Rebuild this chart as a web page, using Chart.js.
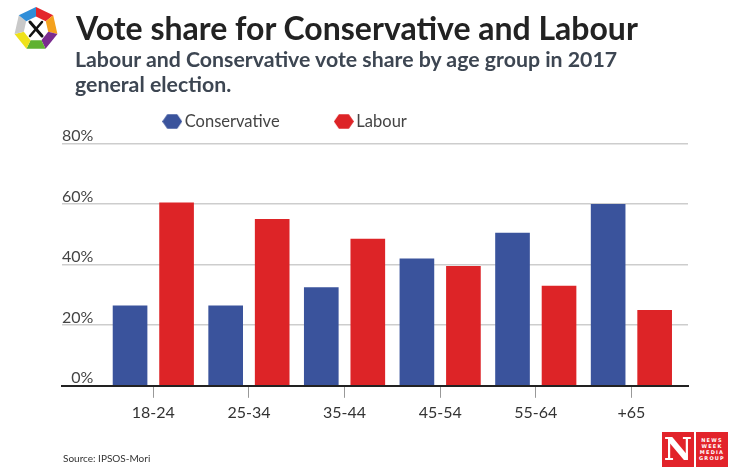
<!DOCTYPE html>
<html>
<head>
<meta charset="utf-8">
<script src="https://cdn.jsdelivr.net/npm/chart.js@4.4.1/dist/chart.umd.min.js"></script>
<style>
html,body{margin:0;padding:0;background:#fff;}
#wrap{position:relative;width:736px;height:474px;overflow:hidden;font-family:Lato,"Open Sans",sans-serif;background:#fff;}
#c{position:absolute;left:0;top:0;}
#logo{position:absolute;left:12px;top:5px;}
#title{position:absolute;left:76px;top:8.4px;font-weight:700;font-size:32px;line-height:normal;color:#222;white-space:nowrap;}
#subtitle{position:absolute;left:75px;top:47px;font-weight:700;font-size:21.3px;line-height:25px;color:#3d4652;white-space:nowrap;}
#source{position:absolute;left:63px;top:452px;font-size:10px;line-height:normal;color:#333;white-space:nowrap;}
.nw{position:absolute;top:432px;width:32px;height:35px;background:#e2232a;color:#fff;text-align:center;}
#nw1{left:662px;font-family:"DejaVu Serif",serif;font-weight:900;font-size:31px;line-height:35px;}
#nw2{left:696px;font-family:"DejaVu Sans",sans-serif;font-weight:700;font-size:5px;line-height:6px;letter-spacing:1.2px;padding-top:5px;height:30px;}
</style>
</head>
<body>
<div id="wrap">
  <canvas id="c" width="736" height="474"></canvas>
  <svg id="logo" width="48" height="48" viewBox="0 0 48 48"></svg>
  <div id="title">Vote share for Conservative and Labour</div>
  <div id="subtitle">Labour and Conservative vote share by age group in 2017<br>general election.</div>
  <div id="source">Source: IPSOS-Mori</div>
  <div class="nw" id="nw1">N</div>
  <div class="nw" id="nw2">NEWS<br>WEEK<br>MEDIA<br>GROUP</div>
</div>
<script>
// ---- data ----
const categories = ['18-24', '25-34', '35-44', '45-54', '55-64', '+65'];
const seriesNames = ['Conservative', 'Labour'];
const conservative = [26.5, 26.5, 32.5, 42, 50.5, 60];
const labour = [60.5, 55, 48.5, 39.5, 33, 25];
const yTickValues = [0, 20, 40, 60, 80];

const colors = ['#3a539c', '#dd2427'];

// ---- logo (decoration) ----
(function () {
  const svg = document.getElementById('logo');
  const cx = 24, cy = 24, R = 22, r = 12.5;
  const segColors = ['#e3262b', '#f4a11d', '#7a2b8f', '#5fb130', '#efe21a', '#c9c9c9', '#2f8ed8'];
  const pt = (rad, k) => {
    const a = (-90 + k * 360 / 7) * Math.PI / 180;
    return [cx + rad * Math.cos(a), cy + rad * Math.sin(a)];
  };
  let html = '';
  for (let k = 0; k < 7; k++) {
    const p = [pt(R, k), pt(R, k + 1), pt(r, k + 1), pt(r, k)];
    html += '<polygon points="' + p.map(q => q.join(',')).join(' ') + '" fill="' + segColors[k] + '"/>';
  }
  html += '<line x1="18" y1="17" x2="30" y2="31" stroke="#111" stroke-width="3" stroke-linecap="round"/>';
  html += '<line x1="30" y1="17" x2="18" y2="31" stroke="#111" stroke-width="2.5" stroke-linecap="round"/>';
  svg.innerHTML = html;
})();

// ---- hexagon legend icons ----
function hexIcon(color) {
  const cv = document.createElement('canvas');
  cv.width = 20; cv.height = 17;
  const g = cv.getContext('2d');
  g.fillStyle = color;
  g.beginPath();
  const cx = 10, cy = 8.5, rx = 10, ry = 8.5;
  for (let i = 0; i < 6; i++) {
    const a = i * Math.PI / 3;
    const x = cx + rx * Math.cos(a), y = cy + ry * Math.sin(a);
    if (i === 0) g.moveTo(x, y); else g.lineTo(x, y);
  }
  g.closePath();
  g.fill();
  return cv;
}
const hexIcons = colors.map(hexIcon);

const LEGEND_PAD = 60;
const LEGEND_FONT = 16.5;
const legendPlace = {
  id: 'legendPlace',
  afterLayout(chart) {
    const lg = chart.legend;
    if (!lg) return;
    const dx = (168 - LEGEND_PAD) - lg.left;
    lg.left += dx; lg.right += dx;
    const dy = (121.5 - LEGEND_PAD - LEGEND_FONT / 2) - lg.top;
    lg.top += dy; lg.bottom += dy;
  }
};

const chart = new Chart(document.getElementById('c'), {
  type: 'bar',
  data: {
    datasets: [
      { label: seriesNames[0], data: conservative.map((v, i) => ({ x: i, y: v })), backgroundColor: colors[0] },
      { label: seriesNames[1], data: labour.map((v, i) => ({ x: i, y: v })), backgroundColor: colors[1] }
    ]
  },
  options: {
    responsive: false,
    animation: false,
    devicePixelRatio: 1,
    categoryPercentage: 0.973,
    barPercentage: 0.745,
    layout: { padding: { left: 62, right: 48, top: 143.3 - (LEGEND_FONT + LEGEND_PAD + 10), bottom: 47 } },
    plugins: {
      title: { display: false },
      tooltip: { enabled: false },
      legend: {
        display: true,
        position: 'top',
        align: 'start',
        labels: {
          usePointStyle: true,
          pointStyleWidth: 8.5,
          padding: LEGEND_PAD,
          color: '#444',
          font: { family: 'Lato', size: LEGEND_FONT },
          generateLabels(ch) {
            const items = Chart.defaults.plugins.legend.labels.generateLabels(ch);
            items.forEach((it, i) => { it.pointStyle = hexIcons[i]; });
            return items;
          }
        }
      }
    },
    scales: {
      x: {
        type: 'linear',
        offset: false,
        min: -0.955,
        max: 5.592,
        grid: { offset: false, drawOnChartArea: false, drawTicks: true, tickLength: 12, color: '#999', lineWidth: 1 },
        border: { display: true, color: '#222', width: 2 },
        ticks: {
          stepSize: 1,
          includeBounds: false,
          padding: 5,
          color: '#333',
          font: { family: 'Lato', size: 16 },
          callback: (v) => (categories[v] !== undefined ? categories[v] : '')
        }
      },
      y: {
        min: 0,
        max: 80,
        afterBuildTicks: (s) => { s.ticks = yTickValues.map(v => ({ value: v })); },
        grid: {
          drawTicks: false,
          tickLength: 0,
          color: (ctx) => (ctx.tick && ctx.tick.value === 0 ? 'rgba(0,0,0,0)' : '#cdcdcd'),
          lineWidth: 1.5
        },
        border: { display: false },
        ticks: {
          mirror: true,
          crossAlign: 'far',
          padding: 0,
          labelOffset: -7.5,
          color: '#444',
          font: { family: 'Lato', size: 16 },
          callback: (v) => v + '%'
        }
      }
    }
  },
  plugins: [legendPlace]
});
</script>
</body>
</html>
